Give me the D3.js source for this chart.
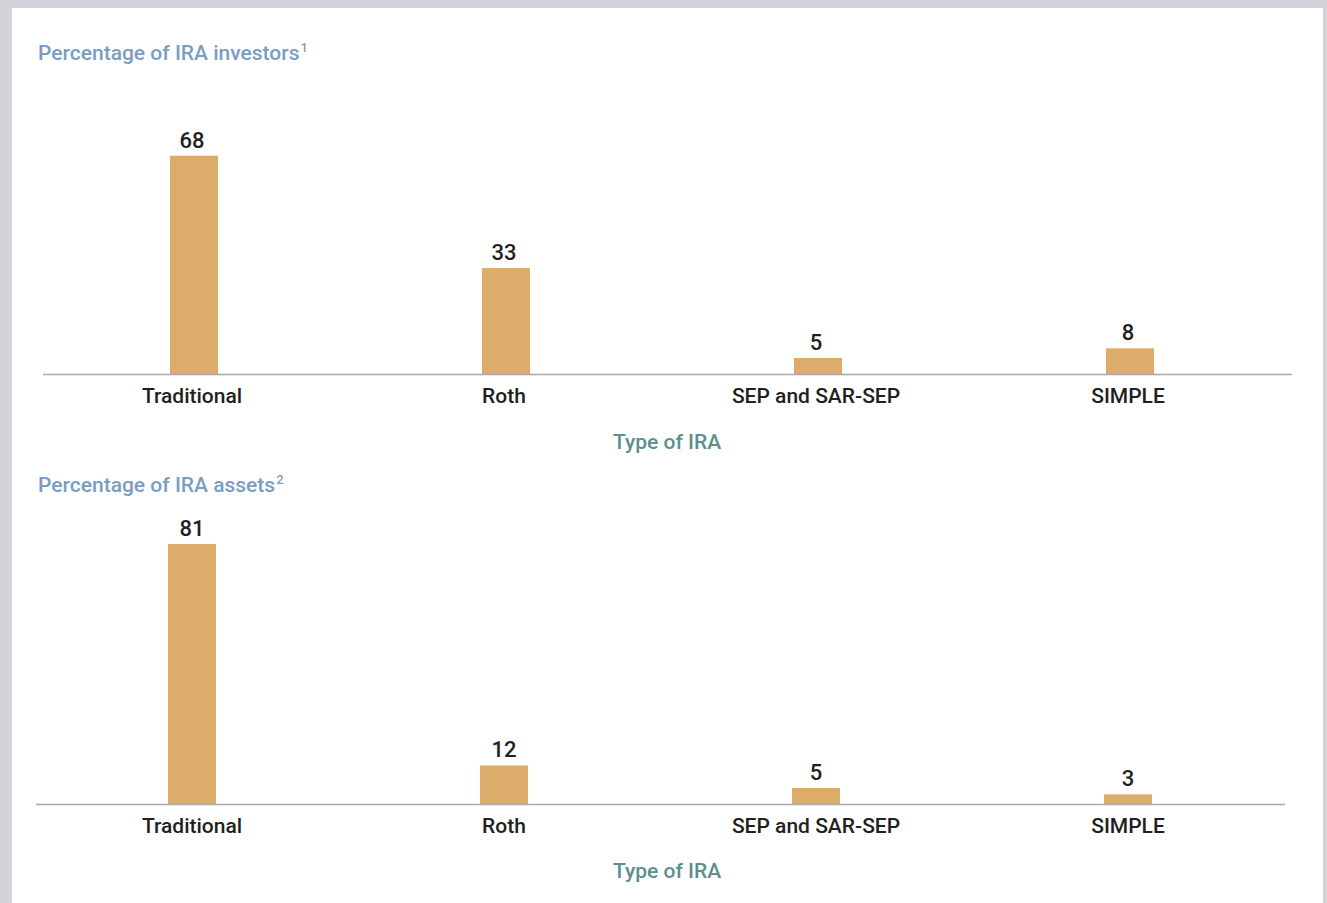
<!DOCTYPE html>
<html><head><meta charset="utf-8">
<script src="https://cdn.jsdelivr.net/npm/d3@7"></script>
<style>
body{margin:0;background:#d3d3d9;}
svg{display:block;}
</style></head>
<body>
<svg id="c" width="1327" height="903"></svg>
<script>
const categories = ["Traditional", "Roth", "SEP and SAR-SEP", "SIMPLE"];
const investorValues = [68, 33, 5, 8];
const assetValues = [81, 12, 5, 3];
const titles = ["Percentage of IRA investors", "Percentage of IRA assets"];
const superscripts = ["1", "2"];
const axisTitle = "Type of IRA";

const svg = d3.select("#c");
svg.append("rect").attr("x", 12).attr("y", 8).attr("width", 1311).attr("height", 895).attr("fill", "#fff");

const font = "Roboto, 'Open Sans', sans-serif";
const y = d3.scaleLinear().domain([0, 100]).range([0, 321]);
const labelX = d3.scaleBand().domain(categories).range([36, 1284]).paddingInner(0.846).paddingOuter(0.423);

const panels = [
  {values: investorValues, base: 374, x0: 38, axisX: [43, 1292], titleY: 60, axisTitleY: 449},
  {values: assetValues, base: 804, x0: 36, axisX: [36, 1285], titleY: 492, axisTitleY: 878}
];

panels.forEach((p, i) => {
  const g = svg.append("g");
  const x = d3.scaleBand().domain(categories).range([p.x0, p.x0 + 1248]).paddingInner(0.846).paddingOuter(0.423);
  const t = g.append("text").attr("x", 38).attr("y", p.titleY)
    .attr("font-family", font).attr("font-size", 21).attr("font-weight", 500)
    .attr("fill", "#7b9dc0").text(titles[i]);
  t.append("tspan").attr("font-size", 13).attr("dx", 1).attr("dy", -8).text(superscripts[i]);

  g.selectAll("rect.bar").data(p.values).join("rect").attr("class", "bar")
    .attr("x", (d, j) => x(categories[j]))
    .attr("width", x.bandwidth())
    .attr("y", d => p.base - y(d))
    .attr("height", d => y(d))
    .attr("fill", "#dcac6b");

  g.append("line").attr("x1", p.axisX[0]).attr("x2", p.axisX[1])
    .attr("y1", p.base + 0.5).attr("y2", p.base + 0.5)
    .attr("stroke", "#a9a9ab").attr("stroke-width", 1.5);

  g.selectAll("text.val").data(p.values).join("text").attr("class", "val")
    .attr("x", (d, j) => labelX(categories[j]) + labelX.bandwidth() / 2)
    .attr("y", d => p.base - y(d) - 8)
    .attr("text-anchor", "middle")
    .attr("font-family", font).attr("font-size", 22).attr("font-weight", 500)
    .attr("fill", "#231f20").text(d => d);

  g.selectAll("text.cat").data(categories).join("text").attr("class", "cat")
    .attr("x", d => labelX(d) + labelX.bandwidth() / 2)
    .attr("y", p.base + 29)
    .attr("text-anchor", "middle")
    .attr("font-family", font).attr("font-size", 21).attr("font-weight", 500)
    .attr("fill", "#231f20").text(d => d);

  g.append("text").attr("x", 667).attr("y", p.axisTitleY)
    .attr("text-anchor", "middle")
    .attr("font-family", font).attr("font-size", 21).attr("font-weight", 500)
    .attr("fill", "#5b8f90").text(axisTitle);
});
</script>
</body></html>
